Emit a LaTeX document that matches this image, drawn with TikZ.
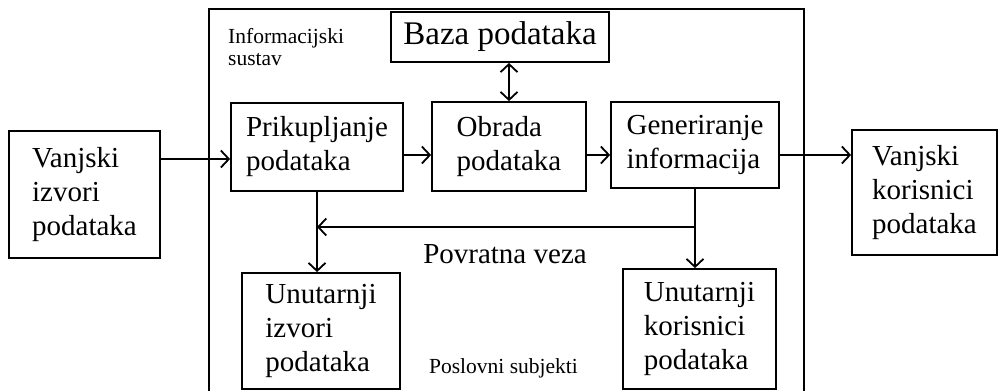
\documentclass[tikz,border=0pt]{standalone}
\usepackage{fontspec}
\setmainfont{Liberation Serif}
\usetikzlibrary{arrows.meta}

\begin{document}
\begin{tikzpicture}[x=1pt, y=-1pt,
  box/.style={draw, line width=1.8pt, align=left, inner sep=0pt,
    font=\fontsize{29}{34}\selectfont},
  arr/.style={line width=1.8pt, -{Straight Barb[length=8pt, width=17pt, line width=1.8pt]}},
  arrr/.style={line width=1.8pt, {Straight Barb[length=8pt, width=17pt, line width=1.8pt]}-{Straight Barb[length=8pt, width=17pt, line width=1.8pt]}},
  small/.style={font=\fontsize{21.5}{22}\selectfont, inner sep=0pt}]
\useasboundingbox (0,0) rectangle (999,391);

% informacijski sustav (frame runs off the bottom)
\draw[line width=1.8pt] (209,395) |- (804,9) -- (804,395);
\node[small, anchor=base west, align=left] (sustav) at (228,65) {Informacijski\\sustav};

\node[box, minimum width=218, minimum height=50, font=\fontsize{33}{38}\selectfont] (baza) at (500,37) {Baza podataka};

\node[box, minimum width=151, minimum height=127] (vizvori) at (84.5,194.5) {Vanjski\\izvori\\podataka};
\node[box, minimum width=172, minimum height=88] (prik) at (317,147) {Prikupljanje\\podataka};
\node[box, minimum width=154, minimum height=89] (obrada) at (509,146.5) {Obrada\\podataka};
\node[box, minimum width=168, minimum height=86] (gen) at (695,145) {Generiranje\\informacija};
\node[box, minimum width=145, minimum height=125] (vkor) at (924.5,192.5) {Vanjski\\korisnici\\podataka};

\node[box, minimum width=158, minimum height=116] (uizvori) at (321,331) {Unutarnji\\izvori\\podataka};
\node[box, minimum width=153, minimum height=120] (ukor) at (699.5,329) {Unutarnji\\korisnici\\podataka};

\node[inner sep=0pt, anchor=base, font=\fontsize{29}{34}\selectfont] (povrat) at (505,263) {Povratna veza};
\node[small, anchor=base] (subjekti) at (503.5,373) {Poslovni subjekti};

% rows of the flow
\coordinate (ulaz) at (0,159);
\coordinate (tok) at (0,155);
\coordinate (veza) at (0,227);

\draw[arr] (vizvori.east |- ulaz) -- (prik.west |- ulaz);
\draw[arr] (prik.east |- tok) -- (obrada.west |- tok);
\draw[arr] (obrada.east |- tok) -- (gen.west |- tok);
\draw[arr] (gen.east |- tok) -- (vkor.west |- tok);
\draw[arrr] (obrada.north |- baza.south) -- (obrada.north);

\draw[arr] (prik.south) -- (prik.south |- uizvori.north);
\draw[arr] (gen.south) -- (gen.south |- ukor.north);
\draw[arr] (gen.south |- veza) -- (prik.south |- veza);

\end{tikzpicture}
\end{document}
